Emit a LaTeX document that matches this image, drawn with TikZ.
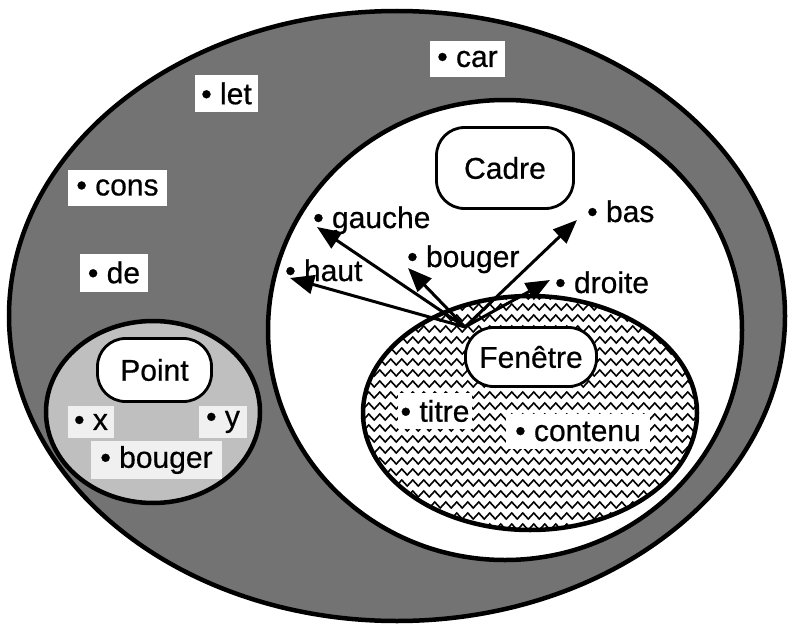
\documentclass[tikz,border=0pt]{standalone}
\usepackage{fontspec}
\setmainfont{Liberation Sans}[FakeBold=0.6]
\usetikzlibrary{arrows.meta,decorations.pathmorphing}
\begin{document}
\begin{tikzpicture}[x=1pt,y=-1pt,
  every node/.style={font=\fontsize{30pt}{36pt}\selectfont, inner sep=0pt},
  wbox/.style={fill=white, minimum height=36pt},
  ptbox/.style={fill=black!6, minimum height=32pt},
  cls/.style={draw=black, line width=2.8pt, fill=white, rounded corners=28pt},
  lbl/.style={anchor=base west},
  arr/.style={line width=3pt, -{Triangle[length=24pt,width=19pt]}},
  zz/.style={line width=1.6pt, decorate, decoration={zigzag, segment length=11pt, amplitude=3pt}},
  rim/.style={draw=black, line width=4.5pt}
]
\useasboundingbox (0,0) rectangle (790,626);
% outer universe
\path[rim, fill=black!55] (397,316) ellipse [x radius=388pt, y radius=305pt];
% Cadre region
\path[rim, fill=white] (505,330) ellipse [x radius=237pt, y radius=230pt];
% Point region
\path[rim, fill=black!25] (153,412) ellipse [x radius=107pt, y radius=91pt];
% Fenetre region
\path[fill=white] (530,413) ellipse [x radius=167pt, y radius=117pt];
\begin{scope}
\clip (530,413) ellipse [x radius=167pt, y radius=117pt];
\foreach \yy in {296,307,...,534} \draw[zz] (355,\yy) -- (705,\yy);
\end{scope}
\path[rim] (530,413) ellipse [x radius=167pt, y radius=117pt];
% labels in the gray band
\node[wbox, minimum width=75pt] (car) at (467.5,59) {• car};
\node[wbox, minimum width=63pt] (let) at (226.5,93.5) {• let};
\node[wbox, minimum width=99pt] (cons) at (117.5,187.5) {• cons};
\node[wbox, minimum width=68pt, minimum height=38pt] (de) at (114,272.5) {• de};
% Point members
\node[ptbox, minimum width=46pt] (px) at (91,422) {• x};
\node[ptbox, minimum width=48pt] (py) at (223,422) {• y};
\node[ptbox, minimum width=131pt, minimum height=38pt] (pb) at (156.5,460) {• bouger};
% Fenetre members
\node[wbox, minimum width=74pt] (titre) at (435,411) {• titre};
\node[wbox, minimum width=144pt, minimum height=35pt] (contenu) at (578,431.5) {• contenu};
% Cadre members
\node[lbl] (gauche) at (313,228) {• gauche};
\node[lbl] (bas) at (587,222) {• bas};
\node[lbl] (bougerc) at (407,267) {• bouger};
\node[lbl] (haut) at (285,281) {• haut};
\node[lbl] (droite) at (555,293) {• droite};
% arrows
\coordinate (src) at (465,327);
\coordinate (tg) at (317,227);
\coordinate (th) at (290,278);
\coordinate (tb) at (408,268);
\coordinate (tbas) at (577,220);
\coordinate (td) at (550,280);
\draw[arr] (src) -- (tg);
\draw[arr] (src) -- (th);
\draw[arr] (src) -- (tb);
\draw[arr] (src) -- (tbas);
\draw[arr] (src) -- (td);
% class boxes
\node[cls, minimum width=137pt, minimum height=81pt] (cadre) at (505,168) {Cadre};
\node[cls, minimum width=114pt, minimum height=63pt] (point) at (154.5,370) {Point};
\node[cls, minimum width=131pt, minimum height=59pt] (fen) at (531,357) {Fenêtre};
\end{tikzpicture}
\end{document}
